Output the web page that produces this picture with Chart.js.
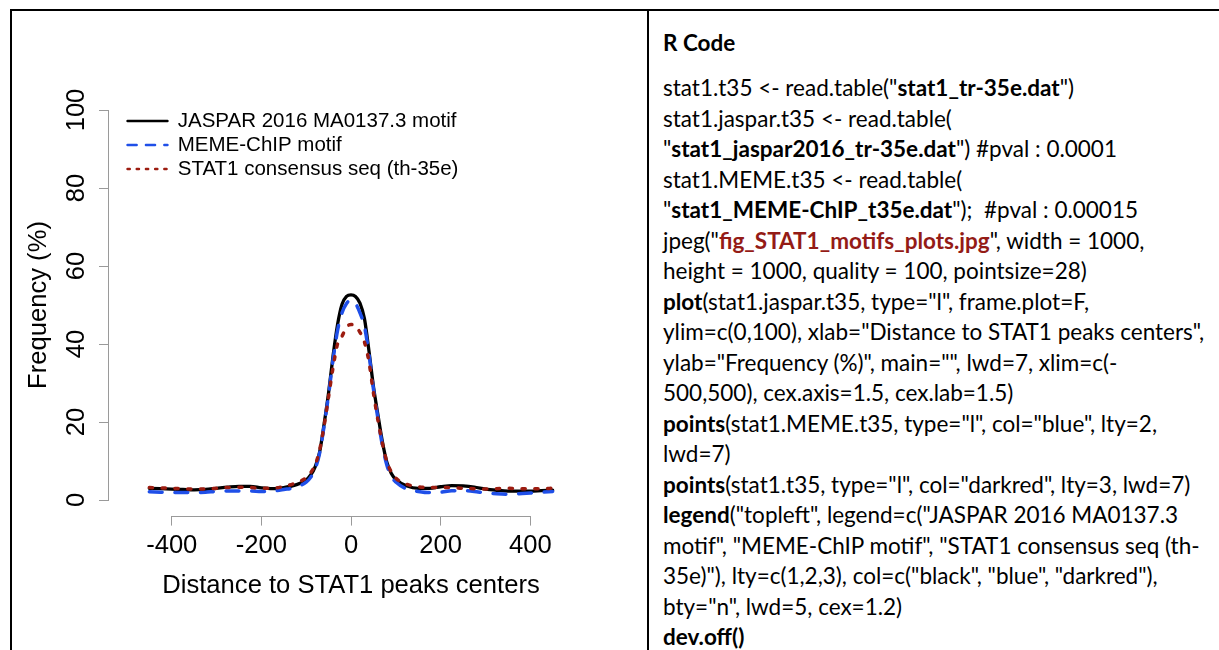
<!DOCTYPE html>
<html>
<head>
<meta charset="utf-8">
<script src="https://cdn.jsdelivr.net/npm/chart.js@4.4.0/dist/chart.umd.min.js"></script>
<style>
  body { margin: 0; width: 1219px; height: 650px; overflow: hidden; position: relative; background: #fff; }
  #plot { position: absolute; left: 0; top: 0; }
  .rule { position: absolute; background: #000; z-index: 2; }
  #code { position: absolute; left: 663px; top: 0; font-family: Lato, "Open Sans", sans-serif; font-size: 22.5px; color: #000; white-space: nowrap; }
  #code .head { position: absolute; top: 28px; line-height: 30px; font-weight: bold; }
  #code .lines { position: absolute; top: 73px; line-height: 30.5px; }
  #code b { font-weight: bold; }
  #code .file { color: #941b16; }
</style>
</head>
<body>
<div class="rule" style="left:10px; top:9px; width:1209px; height:2px;"></div>
<div class="rule" style="left:10px; top:9px; width:2px; height:641px;"></div>
<div class="rule" style="left:647px; top:9px; width:2px; height:641px;"></div>

<canvas id="plot" width="649" height="650"></canvas>

<div id="code">
  <div class="head">R Code</div>
  <div class="lines">
    stat1.t35 &lt;- read.table("<b>stat1_tr-35e.dat</b>")<br>
    stat1.jaspar.t35 &lt;- read.table(<br>
    "<b>stat1_jaspar2016_tr-35e.dat</b>") #pval : 0.0001<br>
    stat1.MEME.t35 &lt;- read.table(<br>
    "<b>stat1_MEME-ChIP_t35e.dat</b>");&nbsp; #pval : 0.00015<br>
    jpeg("<b class="file">fig_STAT1_motifs_plots.jpg</b>", width = 1000,<br>
    height = 1000, quality = 100, pointsize=28)<br>
    <b>plot</b>(stat1.jaspar.t35, type="l", frame.plot=F,<br>
    ylim=c(0,100), xlab="Distance to STAT1 peaks centers",<br>
    ylab="Frequency (%)", main="", lwd=7, xlim=c(-<br>
    500,500), cex.axis=1.5, cex.lab=1.5)<br>
    <b>points</b>(stat1.MEME.t35, type="l", col="blue", lty=2,<br>
    lwd=7)<br>
    <b>points</b>(stat1.t35, type="l", col="darkred", lty=3, lwd=7)<br>
    <b>legend</b>("topleft", legend=c("JASPAR 2016 MA0137.3<br>
    motif", "MEME-ChIP motif", "STAT1 consensus seq (th-<br>
    35e)"), lty=c(1,2,3), col=c("black", "blue", "darkred"),<br>
    bty="n", lwd=5, cex=1.2)<br>
    <b>dev.off()</b>
  </div>
</div>

<script>
// distance to peak centre (bp) and frequency (%)
const distance = [-450, -425, -400, -375, -350, -325, -300, -275, -250, -225, -200, -175, -150, -125, -100,
  -90, -80, -70, -60, -50, -40, -30, -20, -10, 0, 10, 20, 30, 40, 50, 60, 70, 80, 90,
  100, 125, 150, 175, 200, 225, 250, 275, 300, 325, 350, 375, 400, 425, 450];
const jasparFreq = [3.0, 2.9, 2.8, 2.7, 2.6, 2.7, 3.0, 3.3, 3.5, 3.5, 3.1, 2.9, 3.2, 3.8, 5.1,
  6.4, 8.5, 12.3, 19.5, 27.5, 37.0, 45.0, 50.2, 52.2, 52.6, 52.2, 50.5, 46.5, 38.3, 29.2, 21.9, 15.0, 9.7, 6.8,
  5.3, 3.6, 3.0, 3.0, 3.4, 3.7, 3.6, 3.3, 2.8, 2.5, 2.3, 2.3, 2.3, 2.4, 2.5];
const memeFreq = [2.1, 2.0, 1.9, 1.9, 1.9, 2.0, 2.2, 2.3, 2.3, 2.3, 2.2, 2.3, 2.7, 3.2, 4.6,
  5.8, 8.0, 12.0, 19.0, 27.0, 36.0, 43.5, 48.0, 50.4, 51.3, 50.4, 48.0, 44.5, 37.5, 28.5, 21.0, 14.0, 9.0, 6.0,
  4.6, 2.8, 2.2, 1.9, 2.0, 2.4, 2.4, 2.2, 1.8, 1.6, 1.5, 1.6, 1.8, 2.0, 2.2];
const consensusFreq = [3.2, 3.1, 3.0, 2.9, 2.8, 2.8, 3.0, 3.2, 3.3, 3.2, 3.0, 3.0, 3.5, 4.3, 5.7,
  7.0, 9.0, 12.8, 19.0, 26.5, 34.0, 40.0, 42.0, 44.3, 45.0, 44.5, 43.0, 40.5, 35.5, 27.5, 20.5, 14.5, 9.8, 7.2,
  5.6, 4.0, 3.4, 3.2, 3.2, 3.2, 3.0, 2.9, 2.8, 2.9, 3.0, 2.9, 2.9, 2.9, 3.0];
const seriesNames = ["JASPAR 2016 MA0137.3 motif", "MEME-ChIP motif", "STAT1 consensus seq (th-35e)"];
const xTicks = [-400, -200, 0, 200, 400];
const yTicks = [0, 20, 40, 60, 80, 100];

const FONT = "'Liberation Sans', Arial, Helvetica, sans-serif";
const AXIS_GREY = "#9a9a9a";
// legend uses lwd=5, a bit thinner than the plotted lines
const LEGEND_WIDTH = 2.4;
const legendDash = [[], [9.2, 9.2], [2.3, 6.9]];

function points(values) {
  return distance.map((d, i) => ({ x: d, y: values[i] }));
}

// R draws the axis line only between the first and last tick
const rAxes = {
  id: "rAxes",
  afterDraw(chart) {
    const { ctx, chartArea, scales } = chart;
    ctx.save();
    ctx.strokeStyle = AXIS_GREY;
    ctx.lineWidth = 1;
    ctx.beginPath();
    ctx.moveTo(scales.x.getPixelForValue(xTicks[0]), Math.round(chartArea.bottom) + 0.5);
    ctx.lineTo(scales.x.getPixelForValue(xTicks[xTicks.length - 1]), Math.round(chartArea.bottom) + 0.5);
    ctx.moveTo(Math.round(chartArea.left) - 0.5, scales.y.getPixelForValue(yTicks[0]));
    ctx.lineTo(Math.round(chartArea.left) - 0.5, scales.y.getPixelForValue(yTicks[yTicks.length - 1]));
    ctx.stroke();
    ctx.restore();
  }
};

// legend sits a little inside the top left corner of the plot
const legendInset = {
  id: "legendInset",
  afterLayout(chart) {
    const lg = chart.legend;
    lg.left = 124;
    lg.top = 107.25;
    lg.right = lg.left + lg.width;
    lg.bottom = lg.top + lg.height;
  }
};

new Chart(document.getElementById("plot"), {
  type: "line",
  data: {
    datasets: [
      {
        label: seriesNames[0],
        data: points(jasparFreq),
        borderColor: "#000000",
        backgroundColor: "#000000",
        borderWidth: 3.3,
        order: 2
      },
      {
        label: seriesNames[1],
        data: points(memeFreq),
        borderColor: "#1f4fe8",
        backgroundColor: "#1f4fe8",
        borderWidth: 3.5,
        borderDash: [12.8, 12.8],
        order: 1
      },
      {
        label: seriesNames[2],
        data: points(consensusFreq),
        borderColor: "#9c1c10",
        backgroundColor: "#9c1c10",
        borderWidth: 3.5,
        borderDash: [3.2, 9.6],
        order: 0
      }
    ]
  },
  options: {
    responsive: false,
    animation: false,
    layout: { padding: { left: 0, top: 94.4, right: 56, bottom: 0 } },
    elements: {
      point: { radius: 0 },
      line: { cubicInterpolationMode: "monotone", borderCapStyle: "round", borderJoinStyle: "round", fill: false }
    },
    plugins: {
      legend: {
        position: "chartArea",
        align: "start",
        labels: {
          usePointStyle: true,
          pointStyle: "line",
          pointStyleWidth: 40,
          padding: 3.5,
          color: "#000",
          font: { family: FONT, size: 20.5 },
          generateLabels: (chart) =>
            Chart.defaults.plugins.legend.labels.generateLabels(chart).map((item) => {
              const ds = chart.data.datasets[item.datasetIndex];
              item.strokeStyle = ds.borderColor;
              item.lineWidth = LEGEND_WIDTH;
              item.lineDash = legendDash[item.datasetIndex];
              item.lineCap = "round";
              return item;
            }),
          sort: (a, b) => a.datasetIndex - b.datasetIndex
        }
      },
      tooltip: { enabled: false }
    },
    scales: {
      x: {
        type: "linear",
        min: -540,
        max: 540,
        afterBuildTicks: (axis) => { axis.ticks = xTicks.map((v) => ({ value: v })); },
        afterFit: (axis) => { axis.height = 134.4; },
        grid: { drawOnChartArea: false, tickLength: 10, color: AXIS_GREY, lineWidth: 1 },
        border: { display: false },
        ticks: { color: "#000", font: { family: FONT, size: 25.6 }, padding: 5, maxRotation: 0, autoSkip: false },
        title: {
          display: true,
          text: "Distance to STAT1 peaks centers",
          color: "#000",
          font: { family: FONT, size: 25.6 },
          padding: { top: 0, bottom: 48.6 }
        }
      },
      y: {
        min: -4,
        max: 104,
        afterBuildTicks: (axis) => { axis.ticks = yTicks.map((v) => ({ value: v })); },
        afterFit: (axis) => { axis.width = 109; },
        grid: { drawOnChartArea: false, tickLength: 10, color: AXIS_GREY, lineWidth: 1 },
        border: { display: false },
        ticks: { color: "#000", font: { family: FONT, size: 25.6 }, padding: 1, minRotation: 90, maxRotation: 90, crossAlign: "center" },
        title: {
          display: true,
          text: "Frequency (%)",
          color: "#000",
          font: { family: FONT, size: 25.6 },
          padding: { top: 23.1, bottom: 0 }
        }
      }
    }
  },
  plugins: [rAxes, legendInset]
});
</script>
</body>
</html>
